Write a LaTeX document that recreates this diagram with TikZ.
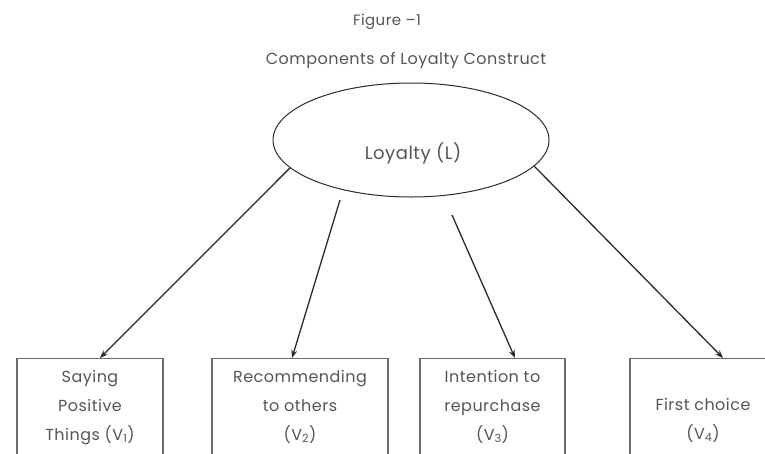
\documentclass[tikz,border=0pt]{standalone}
\usepackage{fontspec}
\setmainfont{Poppins}[LetterSpace=3]
\usetikzlibrary{arrows.meta,shapes.geometric}
\definecolor{txtgray}{HTML}{555555}
\definecolor{linegray}{HTML}{2A2A2A}
\definecolor{boxgray}{HTML}{6A6A6A}
\tikzset{
  lbl/.style={text=txtgray,font=\fontsize{16}{29}\selectfont,align=center,inner sep=0pt},
  construct/.style={ellipse,draw=linegray,line width=1pt,minimum width=276pt,minimum height=114pt,inner sep=0pt},
  itembox/.style={rectangle,draw=boxgray,line width=1.3pt,minimum height=110pt,inner sep=0pt,anchor=north},
  link/.style={draw=linegray,line width=1.3pt,-{Stealth[length=8pt,width=6pt]}}
}
\begin{document}
\begin{tikzpicture}[x=1pt,y=-1pt]
\useasboundingbox (0,0) rectangle (765,453);
\clip (0,0) rectangle (765,453);
% headings
\node[lbl,font=\fontsize{15}{18}\selectfont] (fig) at (387,22) {Figure –1};
\node[lbl] (cap) at (406,60) {Components of Loyalty Construct};
% latent construct
\node[construct] (L) at (411,140) {};
\node[lbl,font=\fontsize{18}{20}\selectfont] (Ltxt) at (413,153) {Loyalty (L)};
% indicator boxes
\node[itembox,minimum width=146pt] (b1) at (90,358) {};
\node[itembox,minimum width=176pt] (b2) at (300,358) {};
\node[itembox,minimum width=145pt] (b3) at (492.5,358) {};
\node[itembox,minimum width=146pt] (b4) at (703,358) {};
\node[lbl,anchor=north] (t1) at ([yshift=-12pt]b1.north) {Saying\\Positive\\Things (V\textsubscript{1})};
\node[lbl,anchor=north] (t2) at ([yshift=-12pt]b2.north) {Recommending\\to others\\(V\textsubscript{2})};
\node[lbl,anchor=north] (t3) at ([yshift=-12pt]b3.north) {Intention to\\repurchase\\(V\textsubscript{3})};
\node[lbl,anchor=north] (t4) at ([yshift=-40pt]b4.north) {First choice\\(V\textsubscript{4})};
% free starting points of the two middle paths
\coordinate (s2) at (340,200);
\coordinate (s3) at (452,215);
% loadings
\draw[link] (L.193) -- ([xshift=10pt]b1.north);
\draw[link] (s2) -- ([xshift=-8pt]b2.north);
\draw[link] (s3) -- ([xshift=22.5pt]b3.north);
\draw[link] (L.-12) -- ([xshift=20pt]b4.north);
\end{tikzpicture}
\end{document}
